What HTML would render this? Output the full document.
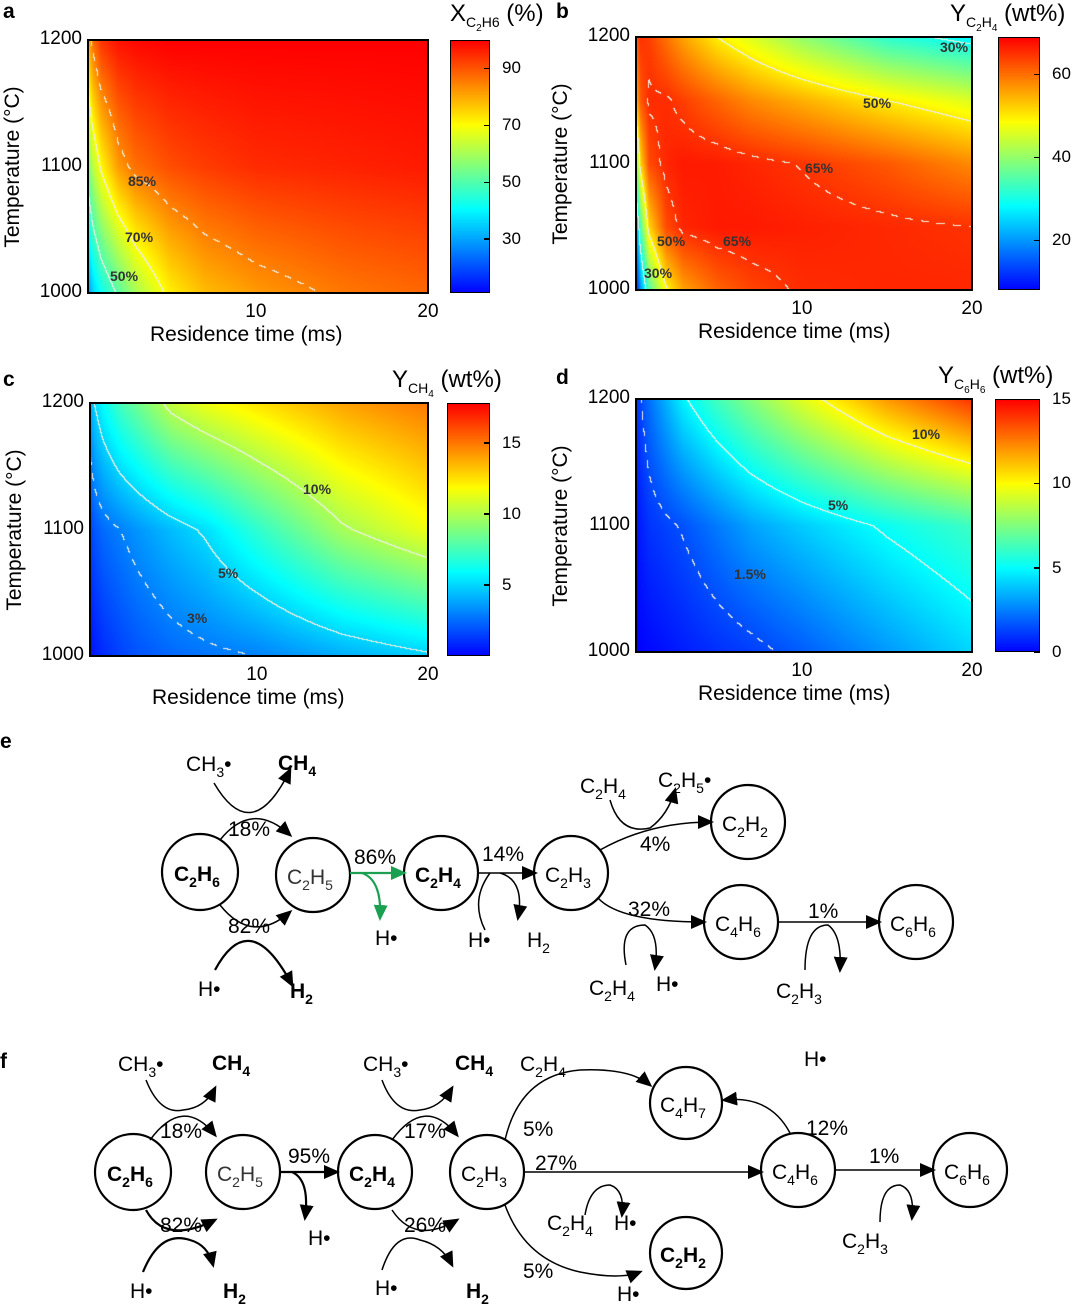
<!DOCTYPE html>
<html><head><meta charset="utf-8">
<style>
body{margin:0;width:1080px;height:1304px;position:relative;background:#fff;font-family:"Liberation Sans",sans-serif;overflow:hidden}
.abs{position:absolute}
.plt{position:absolute;border:2px solid #000;box-sizing:border-box}
.cb{position:absolute;border:1.5px solid #000;box-sizing:border-box}
.yt{position:absolute;font-size:19px;text-align:right;width:60px}
.xt{position:absolute;font-size:19px;width:40px;text-align:center}
.ytitle{position:absolute;font-size:21px;transform:rotate(-90deg);transform-origin:center;white-space:nowrap;width:240px;text-align:center}
.xtitle{position:absolute;font-size:21px;white-space:nowrap}
.ct{position:absolute;font-size:17px}
.let{position:absolute;font-size:21px;font-weight:bold}
.ttl{position:absolute;font-size:24px;white-space:nowrap}
.ttl sub{font-size:14px}
.cl{position:absolute;font-size:14px;font-weight:bold;color:#333}
svg text{font-family:"Liberation Sans",sans-serif}
</style></head><body>

<div class="let" style="left:3px;top:0px">a</div>
<div class="let" style="left:556px;top:0px">b</div>
<div class="let" style="left:3px;top:368px">c</div>
<div class="let" style="left:556px;top:366px">d</div>

<div class="ttl" style="left:450px;top:0px">X<sub>C<sub style="font-size:10px">2</sub>H6</sub> (%)</div>
<div class="ttl" style="left:950px;top:0px">Y<sub>C<sub style="font-size:10px">2</sub>H<sub style="font-size:10px">4</sub></sub> (wt%)</div>
<div class="ttl" style="left:392px;top:366px">Y<sub>CH<sub style="font-size:10px">4</sub></sub> (wt%)</div>
<div class="ttl" style="left:938px;top:362px">Y<sub>C<sub style="font-size:10px">6</sub>H<sub style="font-size:10px">6</sub></sub> (wt%)</div>

<div id="root"></div>

<svg class="abs" style="left:0;top:0" width="1080" height="1304">
<defs>
<marker id="ahb" markerWidth="16" markerHeight="16" refX="13" refY="8" orient="auto" markerUnits="userSpaceOnUse" viewBox="0 0 16 16"><path d="M0,1 L16,8 L0,15 z" fill="#000"/></marker>
<marker id="ahg" markerWidth="16" markerHeight="16" refX="13" refY="8" orient="auto" markerUnits="userSpaceOnUse" viewBox="0 0 16 16"><path d="M0,1 L16,8 L0,15 z" fill="#1aa050"/></marker>
</defs>
<g font-size="22" fill="#000">
<text x="0" y="748" font-weight="bold" font-size="21">e</text>
<text x="0" y="1068" font-weight="bold" font-size="21">f</text>
</g>
<!-- panel e -->
<g stroke="#000" fill="#fff" stroke-width="2.2">
<circle cx="200" cy="872" r="38"/><circle cx="313" cy="875" r="37"/><circle cx="441" cy="873" r="37"/><circle cx="571" cy="873" r="37"/>
<circle cx="748" cy="822" r="37"/><circle cx="741" cy="922" r="37"/><circle cx="916" cy="922" r="37"/>
</g>
<g fill="none" stroke="#000" stroke-width="1.5">
<path d="M220,840 Q252,800 290,835" marker-end="url(#ahb)"/>
<path d="M214,783 Q252,848 290,770" marker-end="url(#ahb)"/>
<path d="M220,905 Q252,945 290,912" marker-end="url(#ahb)"/>
<path d="M215,970 Q250,905 292,985" stroke-width="2.2" marker-end="url(#ahb)"/>
<path d="M478,873 L535,873" marker-end="url(#ahb)"/>
<path d="M490,873 Q470,900 485,930"/>
<path d="M500,873 Q525,880 518,918" marker-end="url(#ahb)"/>
<path d="M600,850 Q650,822 711,822" marker-end="url(#ahb)"/>
<path d="M610,800 Q620,835 650,828 Q668,815 675,790" marker-end="url(#ahb)"/>
<path d="M598,898 Q620,922 704,922" marker-end="url(#ahb)"/>
<path d="M626,965 Q618,925 645,925 Q660,935 655,968" marker-end="url(#ahb)"/>
<path d="M778,922 L879,922" marker-end="url(#ahb)"/>
<path d="M805,970 Q805,925 828,925 Q842,935 840,970" marker-end="url(#ahb)"/>
</g>
<g fill="none" stroke="#1aa050" stroke-width="2.2">
<path d="M350,873 L404,873" marker-end="url(#ahg)"/>
<path d="M362,873 Q382,880 380,918" marker-end="url(#ahg)"/>
</g>
<g font-size="21" fill="#000">
<text x="174" y="881" font-weight="bold">C<tspan font-size="14" dy="6">2</tspan><tspan dy="-6">H</tspan><tspan font-size="14" dy="6">6</tspan></text>
<text x="287" y="884" fill="#333">C<tspan font-size="14" dy="6">2</tspan><tspan dy="-6">H</tspan><tspan font-size="14" dy="6">5</tspan></text>
<text x="415" y="882" font-weight="bold">C<tspan font-size="14" dy="6">2</tspan><tspan dy="-6">H</tspan><tspan font-size="14" dy="6">4</tspan></text>
<text x="545" y="882">C<tspan font-size="14" dy="6">2</tspan><tspan dy="-6">H</tspan><tspan font-size="14" dy="6">3</tspan></text>
<text x="722" y="831">C<tspan font-size="14" dy="6">2</tspan><tspan dy="-6">H</tspan><tspan font-size="14" dy="6">2</tspan></text>
<text x="715" y="931">C<tspan font-size="14" dy="6">4</tspan><tspan dy="-6">H</tspan><tspan font-size="14" dy="6">6</tspan></text>
<text x="890" y="931">C<tspan font-size="14" dy="6">6</tspan><tspan dy="-6">H</tspan><tspan font-size="14" dy="6">6</tspan></text>
<text x="186" y="771">CH<tspan font-size="14" dy="6">3</tspan><tspan dy="-6">•</tspan></text>
<text x="278" y="770" font-weight="bold">CH<tspan font-size="14" dy="6">4</tspan></text>
<text x="228" y="836">18%</text>
<text x="228" y="933">82%</text>
<text x="198" y="996">H•</text>
<text x="290" y="998" font-weight="bold">H<tspan font-size="14" dy="6">2</tspan></text>
<text x="354" y="864">86%</text>
<text x="375" y="945">H•</text>
<text x="482" y="861">14%</text>
<text x="468" y="947">H•</text>
<text x="527" y="947">H<tspan font-size="14" dy="6">2</tspan></text>
<text x="580" y="793">C<tspan font-size="14" dy="6">2</tspan><tspan dy="-6">H</tspan><tspan font-size="14" dy="6">4</tspan></text>
<text x="658" y="787">C<tspan font-size="14" dy="6">2</tspan><tspan dy="-6">H</tspan><tspan font-size="14" dy="6">5</tspan><tspan dy="-6">•</tspan></text>
<text x="640" y="851">4%</text>
<text x="628" y="916">32%</text>
<text x="589" y="995">C<tspan font-size="14" dy="6">2</tspan><tspan dy="-6">H</tspan><tspan font-size="14" dy="6">4</tspan></text>
<text x="656" y="991">H•</text>
<text x="808" y="918">1%</text>
<text x="776" y="998">C<tspan font-size="14" dy="6">2</tspan><tspan dy="-6">H</tspan><tspan font-size="14" dy="6">3</tspan></text>
</g>
<!-- panel f -->
<g stroke="#000" fill="#fff" stroke-width="2.2">
<circle cx="133" cy="1172" r="38"/><circle cx="243" cy="1172" r="37"/><circle cx="375" cy="1172" r="37"/><circle cx="487" cy="1172" r="37"/>
<circle cx="686" cy="1103" r="36"/><circle cx="798" cy="1170" r="37"/><circle cx="970" cy="1170" r="37"/><circle cx="686" cy="1253" r="36"/>
</g>
<g fill="none" stroke="#000" stroke-width="1.5">
<path d="M150,1140 Q183,1095 215,1135" marker-end="url(#ahb)"/>
<path d="M146,1080 Q160,1115 183,1110 Q205,1108 215,1088" marker-end="url(#ahb)"/>
<path d="M146,1210 Q165,1245 215,1220" stroke-width="2.2" marker-end="url(#ahb)"/>
<path d="M143,1272 Q160,1230 190,1240 Q208,1245 213,1265" stroke-width="2.2" marker-end="url(#ahb)"/>
<path d="M280,1172 L337,1172" stroke-width="2.2" marker-end="url(#ahb)"/>
<path d="M292,1172 Q310,1180 305,1218" stroke-width="2.2" marker-end="url(#ahb)"/>
<path d="M392,1140 Q425,1095 457,1135" marker-end="url(#ahb)"/>
<path d="M382,1080 Q395,1115 420,1110 Q440,1108 452,1088" marker-end="url(#ahb)"/>
<path d="M392,1210 Q415,1245 457,1220" marker-end="url(#ahb)"/>
<path d="M382,1270 Q395,1230 420,1240 Q442,1245 452,1265" marker-end="url(#ahb)"/>
<path d="M505,1140 Q520,1075 580,1070 Q630,1068 650,1085" marker-end="url(#ahb)"/>
<path d="M524,1172 L761,1172" marker-end="url(#ahb)"/>
<path d="M585,1215 Q590,1185 610,1185 Q625,1190 622,1215" marker-end="url(#ahb)"/>
<path d="M505,1205 Q525,1260 580,1272 Q620,1280 640,1272" marker-end="url(#ahb)"/>
<path d="M790,1133 Q770,1095 724,1100" marker-end="url(#ahb)"/>
<path d="M835,1170 L933,1170" marker-end="url(#ahb)"/>
<path d="M880,1222 Q880,1185 900,1185 Q915,1190 912,1218" marker-end="url(#ahb)"/>
</g>
<g font-size="21" fill="#000">
<text x="107" y="1181" font-weight="bold">C<tspan font-size="14" dy="6">2</tspan><tspan dy="-6">H</tspan><tspan font-size="14" dy="6">6</tspan></text>
<text x="217" y="1181" fill="#333">C<tspan font-size="14" dy="6">2</tspan><tspan dy="-6">H</tspan><tspan font-size="14" dy="6">5</tspan></text>
<text x="349" y="1181" font-weight="bold">C<tspan font-size="14" dy="6">2</tspan><tspan dy="-6">H</tspan><tspan font-size="14" dy="6">4</tspan></text>
<text x="461" y="1181">C<tspan font-size="14" dy="6">2</tspan><tspan dy="-6">H</tspan><tspan font-size="14" dy="6">3</tspan></text>
<text x="660" y="1112">C<tspan font-size="14" dy="6">4</tspan><tspan dy="-6">H</tspan><tspan font-size="14" dy="6">7</tspan></text>
<text x="772" y="1179">C<tspan font-size="14" dy="6">4</tspan><tspan dy="-6">H</tspan><tspan font-size="14" dy="6">6</tspan></text>
<text x="944" y="1179">C<tspan font-size="14" dy="6">6</tspan><tspan dy="-6">H</tspan><tspan font-size="14" dy="6">6</tspan></text>
<text x="660" y="1262" font-weight="bold">C<tspan font-size="14" dy="6">2</tspan><tspan dy="-6">H</tspan><tspan font-size="14" dy="6">2</tspan></text>
<text x="118" y="1071">CH<tspan font-size="14" dy="6">3</tspan><tspan dy="-6">•</tspan></text>
<text x="212" y="1070" font-weight="bold">CH<tspan font-size="14" dy="6">4</tspan></text>
<text x="160" y="1138">18%</text>
<text x="160" y="1232">82%</text>
<text x="130" y="1298">H•</text>
<text x="223" y="1298" font-weight="bold">H<tspan font-size="14" dy="6">2</tspan></text>
<text x="288" y="1163">95%</text>
<text x="308" y="1245">H•</text>
<text x="363" y="1071">CH<tspan font-size="14" dy="6">3</tspan><tspan dy="-6">•</tspan></text>
<text x="455" y="1070" font-weight="bold">CH<tspan font-size="14" dy="6">4</tspan></text>
<text x="404" y="1138">17%</text>
<text x="404" y="1232">26%</text>
<text x="375" y="1295">H•</text>
<text x="466" y="1298" font-weight="bold">H<tspan font-size="14" dy="6">2</tspan></text>
<text x="520" y="1071">C<tspan font-size="14" dy="6">2</tspan><tspan dy="-6">H</tspan><tspan font-size="14" dy="6">4</tspan></text>
<text x="523" y="1136">5%</text>
<text x="535" y="1170">27%</text>
<text x="547" y="1230">C<tspan font-size="14" dy="6">2</tspan><tspan dy="-6">H</tspan><tspan font-size="14" dy="6">4</tspan></text>
<text x="614" y="1230">H•</text>
<text x="523" y="1278">5%</text>
<text x="617" y="1301">H•</text>
<text x="804" y="1066">H•</text>
<text x="806" y="1135">12%</text>
<text x="869" y="1163">1%</text>
<text x="842" y="1248">C<tspan font-size="14" dy="6">2</tspan><tspan dy="-6">H</tspan><tspan font-size="14" dy="6">3</tspan></text>
</g>
</svg>

<script>
// shared axes data
const times = [0.25, 0.5, 1, 2, 3, 5, 7, 10, 15, 20];
const temps3 = [1000, 1100, 1200];
const temps5 = [1000, 1050, 1100, 1150, 1200];
const xTicks = [10, 20];
const yTicks = [1000, 1100, 1200];
// panel a: ethane conversion (%), rows = temps3
const valsA = [
 [28, 35, 42, 51, 60, 72, 78, 82, 86, 88],
 [55, 62, 71, 82, 87, 91, 93, 95, 96, 97],
 [80, 87, 94, 98, 99, 100, 100, 100, 100, 100]];
const cbTicksA = [30, 50, 70, 90];
const levelsA = [50, 70, 85];
// panel b: ethylene yield (wt%), rows = temps5
const valsB = [
 [10, 20, 35, 49, 56, 61, 63.5, 65.5, 66, 66],
 [20, 35, 52, 63, 66, 67, 67, 66.5, 65.8, 65],
 [38, 52, 63, 66, 67, 66.8, 66, 64.8, 62, 58],
 [55, 62, 65.5, 65.5, 64, 61, 58, 55, 50, 46],
 [62, 65, 64, 60, 56, 50, 46, 40, 32, 28]];
const cbTicksB = [20, 40, 60];
const levelsB = [30, 50, 65];
// panel c: methane yield (wt%), rows = temps3
const valsC = [
 [0.3, 0.6, 1.0, 1.5, 1.9, 2.4, 2.7, 3.0, 4.0, 4.8],
 [1.5, 2.0, 2.5, 3.0, 3.5, 4.4, 5.2, 7.0, 9.8, 11.5],
 [4.0, 5.0, 6.0, 7.5, 8.5, 10.5, 11.5, 12.5, 14, 15]];
const cbTicksC = [5, 10, 15];
const levelsC = [3, 5, 10];
// panel d: benzene yield (wt%), rows = temps3
const valsD = [
 [0, 0.05, 0.15, 0.35, 0.55, 0.9, 1.2, 1.8, 3.0, 4.2],
 [0.3, 0.6, 1.0, 1.3, 1.6, 2.4, 3.2, 4.0, 5.2, 6.2],
 [1.0, 1.4, 2.2, 3.5, 4.8, 6.3, 7.6, 9.4, 12, 14]];
const cbTicksD = [0, 5, 10, 15];
const levelsD = [1.5, 5, 10];

const panels = [
 {id:'a', vals:valsA, temps:temps3, cb:cbTicksA, lv:levelsA, dash:[false,false,true], min:11, max:100, px:88, py:40, pw:340, ph:253, cx:450, cw:40,
  labels:[['50%',110,276],['70%',125,237],['85%',128,181]]},
 {id:'b', vals:valsB, temps:temps5, cb:cbTicksB, lv:levelsB, dash:[false,false,true], min:8, max:69, px:636, py:37, pw:336, ph:253, cx:998, cw:42,
  labels:[['30%',644,273],['50%',657,241],['65%',723,241],['65%',805,168],['50%',863,103],['30%',940,47]]},
 {id:'c', vals:valsC, temps:temps3, cb:cbTicksC, lv:levelsC, dash:[true,false,false], min:0, max:17.8, px:90, py:403, pw:338, ph:253, cx:447, cw:43,
  labels:[['3%',187,618],['5%',218,573],['10%',303,489]]},
 {id:'d', vals:valsD, temps:temps3, cb:cbTicksD, lv:levelsD, dash:[true,false,false], min:0, max:15, px:636, py:399, pw:336, ph:253, cx:995, cw:45,
  labels:[['1.5%',734,574],['5%',828,505],['10%',912,434]]}
];

function jet(f){
  f=Math.max(0,Math.min(1,f));
  f=0.125+0.75*f;
  const r=Math.max(0,Math.min(1,1.5-Math.abs(4*f-3)));
  const g=Math.max(0,Math.min(1,1.5-Math.abs(4*f-2)));
  const b=Math.max(0,Math.min(1,1.5-Math.abs(4*f-1)));
  return [r*255,g*255,b*255];
}
function sample(vals,tps,t,T){
  let i=0; while(i<times.length-2 && t>times[i+1]) i++;
  let u=(t-times[i])/(times[i+1]-times[i]); u=Math.max(0,Math.min(1,u));
  let j=0; while(j<tps.length-2 && T>tps[j+1]) j++;
  let w=(T-tps[j])/(tps[j+1]-tps[j]); w=Math.max(0,Math.min(1,w));
  const a=vals[j][i]*(1-u)+vals[j][i+1]*u;
  const b=vals[j+1][i]*(1-u)+vals[j+1][i+1]*u;
  return a*(1-w)+b*w;
}
const root=document.getElementById('root');
const tMin=0.25,tMax=20;
panels.forEach(p=>{
  const xs=t=>(t-tMin)/(tMax-tMin)*p.pw;
  const ys=T=>(1200-T)/200*p.ph;
  const cv=document.createElement('canvas');
  cv.width=p.pw; cv.height=p.ph;
  cv.className='abs'; cv.style.left=p.px+'px'; cv.style.top=p.py+'px';
  
  
  root.appendChild(cv);
  const ctx=cv.getContext('2d');
  const img=ctx.createImageData(p.pw,p.ph);
  const V=new Float32Array(p.pw*p.ph);
  for(let y=0;y<p.ph;y++)for(let x=0;x<p.pw;x++){
    const t=tMin+x/p.pw*(tMax-tMin), T=1200-y/p.ph*200;
    V[y*p.pw+x]=sample(p.vals,p.temps,t,T);
  }
  for(let y=0;y<p.ph;y++)for(let x=0;x<p.pw;x++){
    const v=V[y*p.pw+x]; let c=jet((v-p.min)/(p.max-p.min));
    let white=false;
    p.lv.forEach((L,k)=>{
      const r=x<p.pw-1?V[y*p.pw+x+1]:v, d=y<p.ph-1?V[(y+1)*p.pw+x]:v;
      if((v-L)*(r-L)<=0&&r!==v || (v-L)*(d-L)<=0&&d!==v){
        if(!p.dash[k] || Math.floor((x+y)/9)%2===0) white=true;
      }
    });
    if(white) c=[235,240,225];
    const o=(y*p.pw+x)*4; img.data[o]=c[0];img.data[o+1]=c[1];img.data[o+2]=c[2];img.data[o+3]=255;
  }
  ctx.putImageData(img,0,0);
  const fr=document.createElement('div'); fr.className='plt';
  fr.style.cssText=`left:${p.px-1}px;top:${p.py-1}px;width:${p.pw+2}px;height:${p.ph+2}px`;
  
  
  root.appendChild(fr);
  yTicks.forEach(T=>{
    const d=document.createElement('div'); d.className='yt'; d.textContent=T;
    d.style.left=(p.px-66)+'px'; d.style.top=(p.py+ys(T)-12)+'px';
    
    
    root.appendChild(d);
  });
  xTicks.forEach(t=>{
    const d=document.createElement('div'); d.className='xt'; d.textContent=t;
    d.style.left=(p.px+xs(t)-20)+'px'; d.style.top=(p.py+p.ph+8)+'px';
    
    
    root.appendChild(d);
  });
  const yt=document.createElement('div'); yt.className='ytitle'; yt.textContent='Temperature (°C)';
  yt.style.left=(p.px-88-120+13)+'px'; yt.style.top=(p.py+p.ph/2-12)+'px';
  
  
  root.appendChild(yt);
  const xt=document.createElement('div'); xt.className='xtitle'; xt.textContent='Residence time (ms)';
  xt.style.left=(p.px+62)+'px'; xt.style.top=(p.py+p.ph+30)+'px';
  
  
  root.appendChild(xt);
  p.labels.forEach(l=>{
    const d=document.createElement('div'); d.className='cl'; d.textContent=l[0];
    d.style.left=l[1]+'px'; d.style.top=(l[2]-8)+'px';
    
    
    root.appendChild(d);
  });
  const cb=document.createElement('canvas'); cb.width=p.cw; cb.height=p.ph;
  cb.className='abs'; cb.style.left=p.cx+'px'; cb.style.top=p.py+'px';
  
  
  root.appendChild(cb);
  const c2=cb.getContext('2d');
  for(let y=0;y<p.ph;y++){const c=jet(1-y/p.ph);c2.fillStyle=`rgb(${c[0]|0},${c[1]|0},${c[2]|0})`;c2.fillRect(0,y,p.cw,1);}
  const cbf=document.createElement('div'); cbf.className='cb';
  cbf.style.cssText=`left:${p.cx}px;top:${p.py}px;width:${p.cw}px;height:${p.ph}px`;
  
  
  root.appendChild(cbf);
  p.cb.forEach(v=>{
    const y=p.py+(p.max-v)/(p.max-p.min)*p.ph;
    const tk=document.createElement('div'); tk.className='abs';
    tk.style.cssText=`left:${p.cx+p.cw-6}px;top:${y-0.5}px;width:6px;height:1.5px;background:#000`;
    
    
    root.appendChild(tk);
    const d=document.createElement('div'); d.className='ct'; d.textContent=v;
    d.style.left=(p.cx+p.cw+12)+'px'; d.style.top=(y-10)+'px';
    
    
    root.appendChild(d);
  });
});
</script>
</body></html>
